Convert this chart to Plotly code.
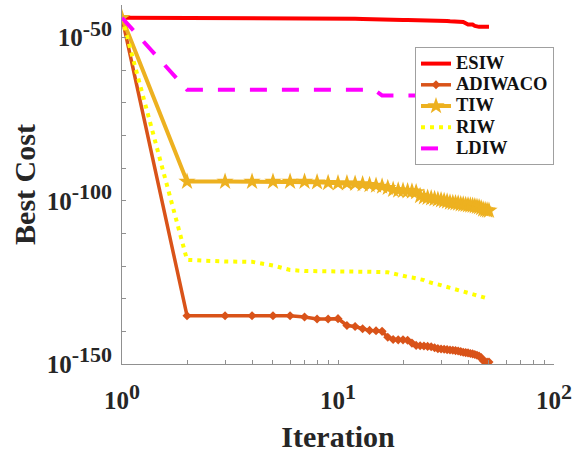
import plotly.graph_objects as go

iterations = list(range(1, 51))

# log10 of best cost
esiw_exp = [-43.9, -43.9, -43.9] + [-44.2] * 9 + [-44.3, -44.4, -44.5, -44.5] + \
    [-44.5, -44.5, -44.6, -44.6, -44.6, -44.6, -44.7, -44.7, -44.7, -44.7, -44.8, -44.8, -44.8, -44.8] + \
    [-44.9, -44.9, -45.0, -45.0, -45.1, -45.1, -45.2, -45.2] + \
    [-45.6, -46.0, -46.0, -46.0, -46.4, -46.7] + [-46.7] * 6

adiwaco_exp = [-43.9] + [-135.2] * 5 + [
    -135.6, -136.2, -136.2, -136.1, -138.2, -138.5, -139.2, -139.7, -139.8, -140.0,
    -141.8, -142.5, -142.6, -142.6, -142.7, -143.6, -144.3, -144.4, -144.5, -144.6,
    -144.7, -145.0, -145.3, -145.4, -145.5, -145.6, -145.7, -145.8, -145.9, -146.0,
    -146.2, -146.4, -146.5, -146.6, -146.8, -146.9, -147.1, -147.3, -147.6, -148.0,
    -149.0, -149.3, -149.4, -149.4]

tiw_exp = [-43.9] + [-94.1] * 6 + [
    -94.3, -94.5, -94.6, -94.6, -94.7, -94.9, -95.1, -95.3, -95.6, -96.0,
    -96.6, -96.8, -96.9, -97.0, -97.1, -97.3, -98.5, -98.9, -99.0, -99.2,
    -99.4, -99.6, -99.8, -100.0, -100.2, -100.5, -100.6, -100.7, -100.8, -101.0,
    -101.1, -101.2, -101.3, -101.4, -101.5, -101.6, -101.8, -101.9, -102.2, -102.6,
    -102.8, -102.9, -103.0]

riw_exp = [-43.9, -118.1, -118.6, -118.7, -119.8, -121.2] + [-121.5] * 8 + [
    -121.7, -121.8, -121.9, -122.3, -122.8, -123.1, -123.3, -123.5, -123.7, -124.0,
    -124.3, -124.8, -125.2, -125.4, -125.6, -125.9, -126.2, -126.5, -126.7, -126.9,
    -127.2, -127.4, -127.6, -127.8, -128.0, -128.2, -128.4, -128.6, -128.8, -129.0,
    -129.2, -129.4, -129.6, -129.8, -129.9, -130.0]

ldiw_exp = [-43.9] + [-66.0] * 13 + [-66.4] + [-67.7] * 35

series_names = ["ESIW", "ADIWACO", "TIW", "RIW", "LDIW"]

x_tickvals = [1, 2, 3, 4, 5, 6, 7, 8, 9, 10, 20, 30, 40, 50, 60, 70, 80, 90, 100]
x_labels = {1: "0", 10: "1", 100: "2"}
y_exps = list(range(-150, -39, 10))
y_labels = {-150: "-150", -100: "-100", -50: "-50"}

FONT = "Liberation Serif, Times New Roman, serif"
SUP = "<sup><span style='font-size:22px'>{}</span></sup>"

def tt_x(v):
    return ("10" + SUP.format(x_labels[v])) if v in x_labels else ""

def tt_y(e):
    return ("10" + SUP.format(y_labels[e])) if e in y_labels else ""

def vals(exps):
    return [10.0 ** e for e in exps]

def lname(n):
    return "<span style='font-size:18.5px'>" + n + "</span>"

fig = go.Figure()
fig.add_trace(go.Scatter(x=iterations, y=vals(esiw_exp), name=lname(series_names[0]), mode="lines",
                         line=dict(color="#FF0000", width=4)))
fig.add_trace(go.Scatter(x=iterations, y=vals(adiwaco_exp), name=lname(series_names[1]), mode="lines+markers",
                         line=dict(color="#D95319", width=3.5),
                         marker=dict(symbol="diamond", size=7, color="#D95319")))
fig.add_trace(go.Scatter(x=iterations, y=vals(tiw_exp), name=lname(series_names[2]), mode="lines+markers",
                         line=dict(color="#EDB120", width=4),
                         marker=dict(symbol="star", size=13, color="#EDB120")))
fig.add_trace(go.Scatter(x=iterations, y=vals(riw_exp), name=lname(series_names[3]), mode="lines",
                         line=dict(color="#FFFF00", width=4, dash="4px,5px")))
fig.add_trace(go.Scatter(x=iterations, y=vals(ldiw_exp), name=lname(series_names[4]), mode="lines",
                         line=dict(color="#FF00FF", width=4, dash="17px,15px")))

tick_font = dict(family=FONT, size=25, color="#262626", weight="bold")
fig.update_layout(
    width=576, height=455,
    margin=dict(l=122, r=22, t=5, b=91),
    paper_bgcolor="white", plot_bgcolor="white",
    font=dict(family=FONT, color="#262626"),
    showlegend=True,
    legend=dict(x=1.0, y=0.883, xanchor="right", yanchor="top",
                bgcolor="white", bordercolor="#A0A0A0", borderwidth=1,
                font=dict(family=FONT, size=14, color="#111111", weight="bold"),
                tracegroupgap=0, itemwidth=30),
    xaxis=dict(type="log", range=[0, 2], showgrid=False, zeroline=False,
               showline=True, linecolor="#909090", linewidth=1,
               ticks="inside", ticklen=4, tickcolor="#909090",
               tickvals=x_tickvals, ticktext=[tt_x(v) for v in x_tickvals],
               tickfont=tick_font, ticklabelstandoff=14,
               title=dict(text="<b>Iteration</b>", font=dict(family=FONT, size=30, color="#262626"),
                          standoff=12)),
    yaxis=dict(type="log", range=[-150, -40], showgrid=False, zeroline=False,
               showline=True, linecolor="#909090", linewidth=1,
               ticks="inside", ticklen=4, tickcolor="#909090",
               tickvals=[10.0 ** e for e in y_exps], ticktext=[tt_y(e) for e in y_exps],
               tickfont=tick_font, ticklabelstandoff=4,
               title=dict(text="<b>Best Cost</b>", font=dict(family=FONT, size=30, color="#262626"),
                          standoff=2)),
)

fig.write_html("out.html")
